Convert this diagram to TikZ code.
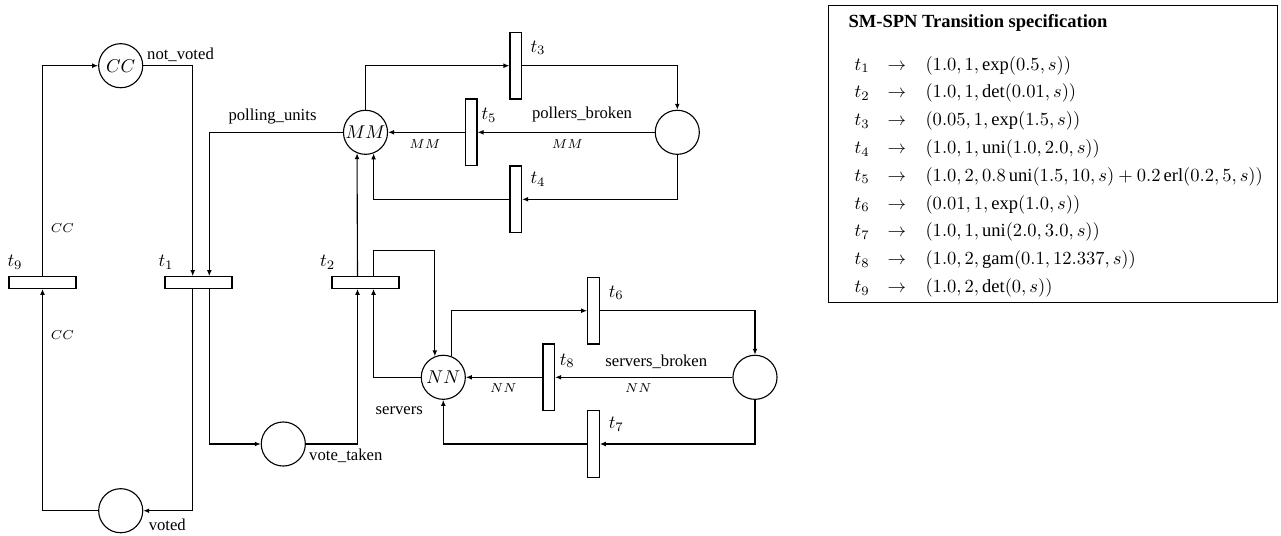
\documentclass[tikz,border=0pt]{standalone}
\usepackage{amsmath}
\usepackage{fontspec}
\setmainfont{Liberation Serif}
\usetikzlibrary{arrows.meta,calc}
\begin{document}
\begin{tikzpicture}[x={(0.54pt,0)}, y={(0,-0.54pt)},
  line width=0.6pt,
  place/.style={circle, draw, minimum size=23.8pt, inner sep=0pt},
  htrans/.style={rectangle, draw, minimum width=36.2pt, minimum height=6.3pt, inner sep=0pt},
  vtrans/.style={rectangle, draw, minimum width=6.3pt, minimum height=36pt, inner sep=0pt},
  arc/.style={-{Latex[length=3.2pt,width=2.6pt]}},
  lbl/.style={font=\fontsize{9}{11}\selectfont, inner sep=0pt},
  tl/.style={inner sep=0pt},
  al/.style={font=\scriptsize, inner sep=0pt},
  row/.style={anchor=base west, inner sep=0pt},
]
\useasboundingbox (0,0) rectangle (1281,535);

% places
\node[place] (CC) at (120.7,65.7) {$CC$};
\node[place] (MM) at (365.5,132.3) {$MM$};
\node[place] (PB) at (677.3,132.3) {};
\node[place] (voted) at (120.7,510.7) {};
\node[place] (VT) at (283.3,444) {};
\node[place] (NN) at (443.3,377.3) {$NN$};
\node[place] (SB) at (755,377.3) {};

% transitions
\node[htrans] (t9) at (42.5,282.5) {};
\node[htrans] (t1) at (198.5,282.5) {};
\node[htrans] (t2) at (365.5,282.5) {};
\node[vtrans] (t3) at (515.8,65.7) {};
\node[vtrans] (t5) at (471.2,132.3) {};
\node[vtrans] (t4) at (515.8,199.3) {};
\node[vtrans] (t6) at (593.5,310.7) {};
\node[vtrans] (t8) at (548.8,377.3) {};
\node[vtrans] (t7) at (593.5,444) {};

% transition labels
\node[tl] (l9) at (15,262.3) {$t_9$};
\node[tl] (l1) at (166,262.3) {$t_1$};
\node[tl] (l2) at (327.7,262.3) {$t_2$};
\node[tl] (l3) at (538,47.7) {$t_3$};
\node[tl] (l5) at (489,115) {$t_5$};
\node[tl] (l4) at (538,179.3) {$t_4$};
\node[tl] (l6) at (616.3,292.7) {$t_6$};
\node[tl] (l8) at (567.3,360.7) {$t_8$};
\node[tl] (l7) at (616.3,424) {$t_7$};

% place labels
\node[lbl] (lnv) at (180.5,55) {not\_voted};
\node[lbl] (lpu) at (272.5,117) {polling\_units};
\node[lbl] (lpb) at (582,114.3) {pollers\_broken};
\node[lbl] (lvo) at (167.3,525) {voted};
\node[lbl] (lvt) at (345.8,456) {vote\_taken};
\node[lbl] (lse) at (399.3,410.7) {servers};
\node[lbl] (lsb) at (656.3,361.7) {servers\_broken};

% arc labels
\node[al] (a1) at (62.3,228.3) {$CC$};
\node[al] (a2) at (62.3,335) {$CC$};
\node[al] (a3) at (425,144) {$MM$};
\node[al] (a4) at (567.3,144) {$MM$};
\node[al] (a5) at (503.3,388.3) {$NN$};
\node[al] (a6) at (638.3,388.3) {$NN$};

% arcs
\draw[arc] (t9.north) |- (CC.west);
\draw[arc] (CC.east) -| ($(t1.north)+(-5.8,0)$);
\draw[arc] (MM.west) -| ($(t1.north)+(10.8,0)$);
\draw[arc] ($(t1.south)+(-5.8,0)$) |- (voted.east);
\draw[arc] ($(t1.south)+(10.8,0)$) |- (VT.west);
\draw[arc] (voted.west) -| (t9.south);
\draw[arc] (VT.east) -| ($(t2.south)+(-8,0)$);
\draw[arc] ($(t2.north)+(-8,0)$) -- (MM.248.7);
\draw[arc] ($(t2.north)+(8,0)$) -- ++(0,-25.7) -| (NN.112);
\draw[arc] (NN.west) -| ($(t2.south)+(8,0)$);
\draw[arc] (MM.north) |- (t3.west);
\draw[arc] (t3.east) -| (PB.north);
\draw[arc] (PB.west) -- (t5.east);
\draw[arc] (t5.west) -- (MM.east);
\draw[arc] (PB.south) |- (t4.east);
\draw[arc] (t4.west) -| (MM.291.3);
\draw[arc] (NN.68) |- (t6.west);
\draw[arc] (t6.east) -| (SB.north);
\draw[arc] (SB.west) -- (t8.east);
\draw[arc] (t8.west) -- (NN.east);
\draw[arc] (SB.south) |- (t7.east);
\draw[arc] (t7.west) -| (NN.south);

% specification table
\node[draw, minimum width=242.1pt, minimum height=160.7pt, anchor=north west, inner sep=0pt] (spec) at (828.3,4.7) {};
\node[row, font=\bfseries] (head) at (848,27) {SM-SPN Transition specification};
\foreach \i/\e in {
  1/{(1.0, 1, \exp(0.5, s))},
  2/{(1.0, 1, \det(0.01, s))},
  3/{(0.05, 1, \exp(1.5, s))},
  4/{(1.0, 1, \operatorname{uni}(1.0, 2.0, s))},
  5/{(1.0, 2, 0.8\operatorname{uni}(1.5, 10, s) + 0.2\operatorname{erl}(0.2, 5, s))},
  6/{(0.01, 1, \exp(1.0, s))},
  7/{(1.0, 1, \operatorname{uni}(2.0, 3.0, s))},
  8/{(1.0, 2, \operatorname{gam}(0.1, 12.337, s))},
  9/{(1.0, 2, \det(0, s))}}{
  \node[row] (rt\i) at (854,{70+27.8*(\i-1)}) {$t_{\i}$};
  \node[row] (ra\i) at (887,{70+27.8*(\i-1)}) {$\rightarrow$};
  \node[row] (re\i) at (925,{70+27.8*(\i-1)}) {$\e$};
}
\end{tikzpicture}
\end{document}
